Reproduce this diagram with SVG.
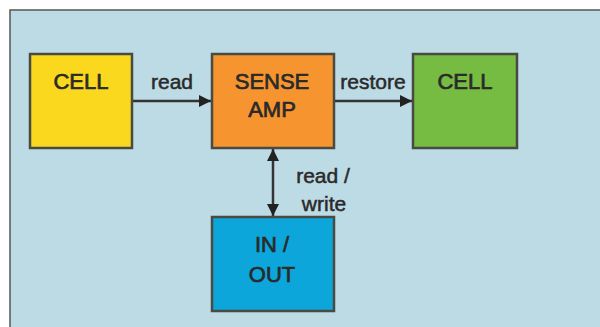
<svg xmlns="http://www.w3.org/2000/svg" width="600" height="327" viewBox="0 0 600 327">
<defs>
<style>
.box{stroke:#4a4a44;stroke-width:2.5}
.t{font-family:"Liberation Sans",Arial,sans-serif;font-size:22px;fill:#2a2a2a;text-anchor:middle;stroke:#2a2a2a;stroke-width:0.7}
.lbl{font-family:"Liberation Sans",Arial,sans-serif;font-size:21px;fill:#2a2a2a;text-anchor:middle;stroke:#2a2a2a;stroke-width:0.5}
.c{stroke:#333;stroke-width:2.5;fill:none}
</style>
<marker id="a" viewBox="0 0 12 12" refX="12" refY="6" markerWidth="14" markerHeight="12" markerUnits="userSpaceOnUse" orient="auto-start-reverse">
<path d="M0,0 L12,6 L0,12 z" fill="#222"/>
</marker>
</defs>
<rect x="0" y="0" width="600" height="327" fill="#ffffff"/>
<rect x="10" y="10" width="600" height="330" fill="#bddbe5" stroke="#555" stroke-width="1.5"/>
<g id="connectors">
<line class="c" x1="132" y1="101" x2="211" y2="101" marker-end="url(#a)"/>
<line class="c" x1="334" y1="101" x2="412" y2="101" marker-end="url(#a)"/>
<line class="c" x1="273" y1="149" x2="273" y2="216" marker-start="url(#a)" marker-end="url(#a)"/>
<text class="lbl" x="172" y="89">read</text>
<text class="lbl" x="373" y="89">restore</text>
<text class="lbl" x="323" y="183">read /</text>
<text class="lbl" x="324" y="211">write</text>
</g>
<g id="cell1">
<rect class="box" x="30" y="54" width="102" height="94" fill="#f9d81d"/>
<text class="t" x="81" y="89">CELL</text>
</g>
<g id="senseamp">
<rect class="box" x="212" y="54" width="122" height="94" fill="#f6952f"/>
<text class="t" x="272" y="89">SENSE</text>
<text class="t" x="272" y="117">AMP</text>
</g>
<g id="cell2">
<rect class="box" x="413" y="54" width="104" height="94" fill="#76bb42"/>
<text class="t" x="465" y="89">CELL</text>
</g>
<g id="inout">
<rect class="box" x="212" y="217" width="122" height="94" fill="#0ca6da"/>
<text class="t" x="272" y="252">IN /</text>
<text class="t" x="272" y="282">OUT</text>
</g>
</svg>
